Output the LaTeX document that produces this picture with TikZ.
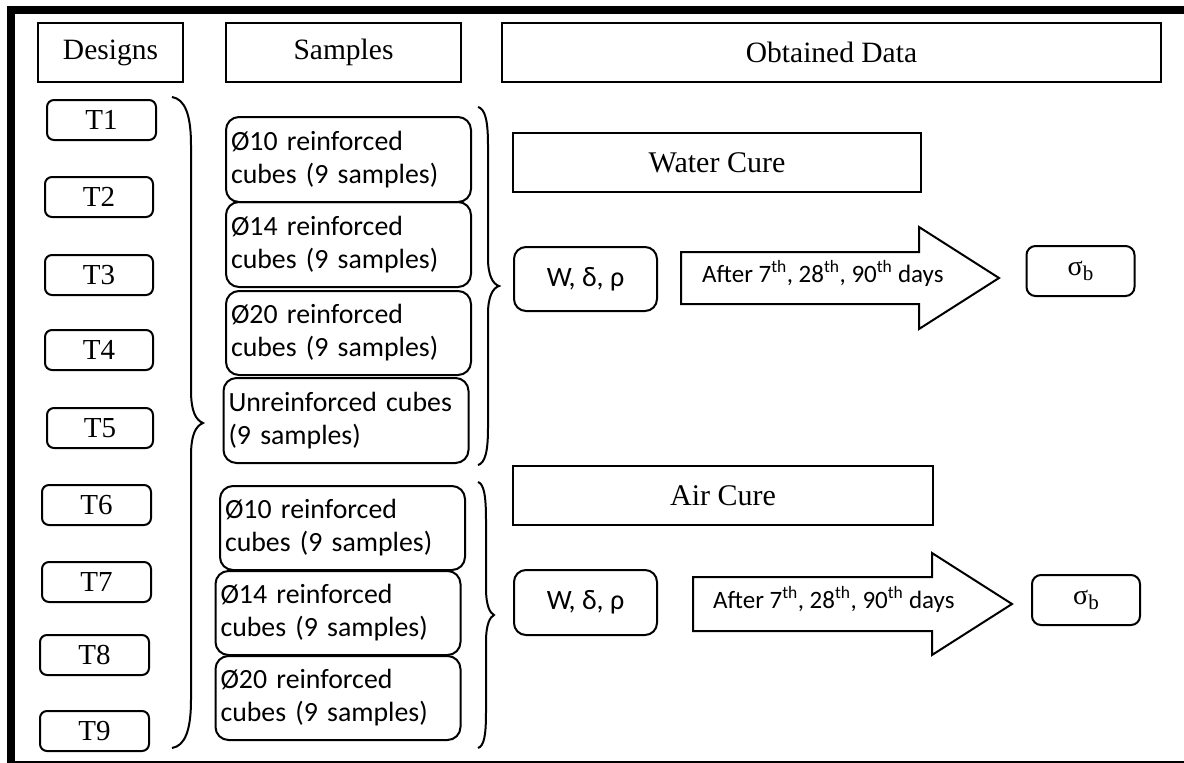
\documentclass[tikz,border=0pt]{standalone}
\usepackage{fontspec}
\setmainfont{Liberation Serif}
\newfontfamily\calfont{Carlito}
\begin{document}
\begin{tikzpicture}[x=1pt,y=-1pt,
  hdr/.style={draw, line width=2pt, inner sep=0pt, font=\fontsize{29.5}{35}\selectfont},
  tbox/.style={draw, rounded corners=7pt, line width=2pt, inner sep=0pt, minimum height=40pt, font=\fontsize{29}{34}\selectfont},
  sbox/.style={draw, rounded corners=13pt, line width=2pt, inner xsep=5pt, inner ysep=0pt, text width=235pt, align=left, font=\calfont\fontsize{27.8}{33}\selectfont},
  wbox/.style={draw, rounded corners=12pt, line width=2pt, inner sep=0pt, minimum width=143pt, font=\calfont\fontsize{28}{33}\selectfont},
  sigbox/.style={draw, rounded corners=9pt, line width=2pt, inner sep=0pt, minimum width=108pt, minimum height=50pt},
  brace/.style={line width=2pt},
  blockarrow/.style={draw, line width=2pt, line join=miter},
  arrtext/.style={anchor=base west, inner sep=0pt, font=\calfont\fontsize{25}{30}\selectfont}
]
\useasboundingbox (0,0) rectangle (1184,763);
\fill[white] (0,0) rectangle (1184,763);
% frame
\draw[line width=8pt, line join=miter] (11,763) -- (11,10) -- (1184,10);
\draw[line width=2pt] (11,761.5) -- (1184,761.5);

% headers
\node[hdr, minimum width=145pt, minimum height=59pt] (designs) at (110.5,52.5) {Designs};
\node[hdr, minimum width=235pt, minimum height=59pt] (samples) at (343.5,52.5) {Samples};
\node[hdr, minimum width=659pt, minimum height=59pt] (obtained) at (831.5,52.5) {Obtained Data};

% designs
\node[tbox, minimum width=109pt] (t1) at (101.5,120) {T1};
\node[tbox, minimum width=108pt] (t2) at (99,197) {T2};
\node[tbox, minimum width=108pt] (t3) at (99,275) {T3};
\node[tbox, minimum width=108pt] (t4) at (99,350) {T4};
\node[tbox, minimum width=106pt] (t5) at (100,428) {T5};
\node[tbox, minimum width=109pt] (t6) at (96.5,505) {T6};
\node[tbox, minimum width=109pt] (t7) at (96.5,582) {T7};
\node[tbox, minimum width=109pt] (t8) at (94.5,655) {T8};
\node[tbox, minimum width=109pt] (t9) at (94.5,731) {T9};

% big brace
\draw[brace] (172,97) .. controls (185,99) and (191,115) .. (191,145) -- (191,390)
  .. controls (191,412) and (196,420) .. (203,423)
  .. controls (196,426) and (191,434) .. (191,456) -- (191,700)
  .. controls (191,730) and (185,746) .. (172,748);

% samples, water group
\node[sbox, minimum height=85pt] (s1) at (348.5,159.5) {Ø10 reinforced\\cubes (9 samples)};
\node[sbox, minimum height=85pt] (s2) at (348.5,244.5) {Ø14 reinforced\\cubes (9 samples)};
\node[sbox, minimum height=84pt] (s3) at (348.5,333) {Ø20 reinforced\\cubes (9 samples)};
\node[sbox, minimum height=85pt] (s4) at (346,420.5) {Unreinforced cubes\\(9 samples)};
% samples, air group
\node[sbox, minimum height=84pt] (s5) at (342.5,528) {Ø10 reinforced\\cubes (9 samples)};
\node[sbox, minimum height=84pt] (s6) at (338,613) {Ø14 reinforced\\cubes (9 samples)};
\node[sbox, minimum height=84pt] (s7) at (338,698) {Ø20 reinforced\\cubes (9 samples)};

% right braces
\draw[brace] (478,107) .. controls (485,109) and (488,120) .. (488,145) -- (488,258)
  .. controls (488,276) and (493,284) .. (499,286)
  .. controls (493,288) and (488,296) .. (488,314) -- (488,428)
  .. controls (488,452) and (485,463) .. (478,465);
\draw[brace] (478,482) .. controls (484,484) and (486,496) .. (486,520) -- (486,588)
  .. controls (486,606) and (490,613) .. (494,615)
  .. controls (490,617) and (486,624) .. (486,642) -- (486,712)
  .. controls (486,736) and (484,746) .. (478,748);

% water cure
\node[hdr, minimum width=408pt, minimum height=59pt, font=\fontsize{30}{35}\selectfont] (water) at (717,162.5) {Water Cure};
\node[wbox, minimum height=64pt] (w1) at (585.5,279) {W, δ, ρ};
\draw[blockarrow] (681,252) -- (919,252) -- (919,227) -- (999,278) -- (919,329) -- (919,304) -- (681,304) -- cycle;
\node[arrtext] (a1) at (702,282) {After 7\textsuperscript{th}, 28\textsuperscript{th}, 90\textsuperscript{th} days};
\node[sigbox] (sig1) at (1080.5,271) {\fontsize{28}{30}\selectfont σ\raisebox{-5pt}{\fontsize{21}{22}\selectfont b}};

% air cure
\node[hdr, minimum width=420pt, minimum height=59pt, font=\fontsize{30}{35}\selectfont] (air) at (723,495.5) {Air Cure};
\node[wbox, minimum height=65pt] (w2) at (585.5,602.5) {W, δ, ρ};
\draw[blockarrow] (693,577) -- (932,577) -- (932,553) -- (1012,604) -- (932,655) -- (932,631) -- (693,631) -- cycle;
\node[arrtext] (a2) at (713,608) {After 7\textsuperscript{th}, 28\textsuperscript{th}, 90\textsuperscript{th} days};
\node[sigbox] (sig2) at (1086,600) {\fontsize{28}{30}\selectfont σ\raisebox{-5pt}{\fontsize{21}{22}\selectfont b}};
\end{tikzpicture}
\end{document}
